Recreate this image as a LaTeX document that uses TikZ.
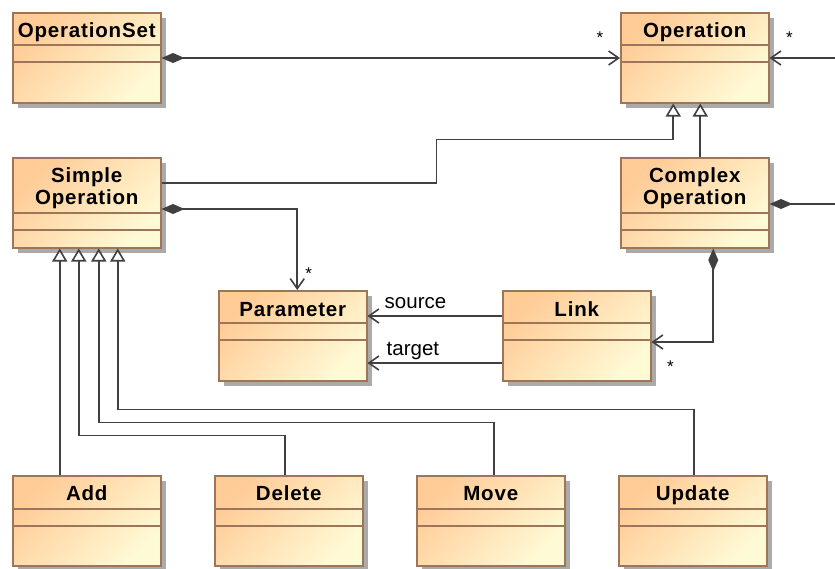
\documentclass[tikz,border=0pt]{standalone}
\usepackage{fontspec}
\setmainfont{Liberation Sans}
\newfontfamily\titlefont[LetterSpace=4]{Liberation Sans}
\usetikzlibrary{arrows.meta,calc,shadows}

\definecolor{boxtop}{RGB}{255,203,150}
\definecolor{boxbot}{RGB}{255,250,214}
\definecolor{boxedge}{RGB}{156,118,86}
\definecolor{boxshadow}{RGB}{170,170,170}
\definecolor{wire}{RGB}{64,64,64}

\tikzset{
  classbox/.style={rectangle, draw=boxedge, line width=1.5pt,
    minimum width=148pt, minimum height=90pt, inner sep=0pt,
    top color=boxtop, bottom color=boxbot, shading angle=45,
    drop shadow={shadow xshift=5pt, shadow yshift=-5pt, fill=boxshadow, opacity=1}},
  compline/.style={draw=boxedge, line width=1.3pt},
  classname/.style={font=\titlefont\bfseries\fontsize{20.5}{22}\selectfont, inner sep=0pt, anchor=base},
  rolelabel/.style={font=\fontsize{20.5}{22}\selectfont, inner sep=0pt},
  multlabel/.style={font=\fontsize{17}{18}\selectfont, inner sep=0pt},
  wireline/.style={draw=wire, line width=1.6pt},
  assoc/.style={wireline, -{Straight Barb[length=10pt,width=14pt,line width=1.6pt]}},
  compo/.style={wireline, {Diamond[length=23pt,width=10pt]}-{Straight Barb[length=10pt,width=14pt,line width=1.6pt]}},
  compoend/.style={wireline, {Diamond[length=23pt,width=10pt]}-},
  gen/.style={wireline, -{Triangle[open,length=13pt,width=15pt,fill=white,line width=1.6pt]}}
}

% class box: name, left x, top y, header height
\newcommand\umlbox[4]{%
  \node[classbox, anchor=north west] (#1) at (#2,#3) {};
  \draw[compline] ($(#1.north west)+(0,#4)$) -- ($(#1.north east)+(0,#4)$);
  \draw[compline] ($(#1.north west)+(0,#4+17)$) -- ($(#1.north east)+(0,#4+17)$);
}
% class title line: label name, box name, baseline offset from top, text
\newcommand\umltitle[4]{%
  \node[classname] (#1) at ($(#2.north)+(0,#3)$) {#4};
}

\begin{document}
\begin{tikzpicture}[x=1pt, y=-1pt]
  \useasboundingbox (0,0) rectangle (835,568);

  % classes
  \umlbox{opset}{12}{12}{33}
  \umltitle{opset-t}{opset}{25}{OperationSet}
  \umlbox{op}{620}{12}{33}
  \umltitle{op-t}{op}{25}{Operation}
  \umlbox{simple}{12}{157}{56}
  \umltitle{simple-t1}{simple}{25}{Simple}
  \umltitle{simple-t2}{simple}{47}{Operation}
  \umlbox{complex}{620}{157}{56}
  \umltitle{complex-t1}{complex}{25}{Complex}
  \umltitle{complex-t2}{complex}{47}{Operation}
  \umlbox{param}{218}{290}{33}
  \umltitle{param-t}{param}{26}{Parameter}
  \umlbox{link}{502}{290}{33}
  \umltitle{link-t}{link}{26}{Link}
  \umlbox{add}{12}{475}{34}
  \umltitle{add-t}{add}{25.5}{Add}
  \umlbox{del}{214}{475}{34}
  \umltitle{del-t}{del}{25.5}{Delete}
  \umlbox{move}{416}{475}{34}
  \umltitle{move-t}{move}{25.5}{Move}
  \umlbox{upd}{618}{475}{34}
  \umltitle{upd-t}{upd}{25.5}{Update}

  % free ends leaving the right edge
  \coordinate (offA) at (835,58);
  \coordinate (offB) at (835,204);

  % associations and compositions
  \draw[compo] ($(opset.north east)+(0,46)$) -- ($(op.north west)+(0,46)$);
  \draw[assoc] (offA) -- ($(op.north east)+(0,46)$);
  \draw[compoend] ($(complex.north east)+(0,47)$) -- (offB);
  \draw[compo] ($(simple.north east)+(0,52)$) -| ($(param.north)+(4.5,0)$);
  \draw[compo] ($(complex.south)+(18.5,0)$) |- ($(link.north east)+(0,52)$);
  \draw[assoc] ($(link.north west)+(0,26)$) -- ($(param.north east)+(0,26)$);
  \draw[assoc] ($(link.north west)+(0,73)$) -- ($(param.north east)+(0,73)$);

  % generalizations
  \draw[gen] ($(simple.north east)+(0,26)$) -- ++(275,0) |- ($(op.south)+(-21.5,36)$) -- ($(op.south)+(-21.5,0)$);
  \draw[gen] ($(complex.north)+(5.5,0)$) -- ($(op.south)+(5.5,0)$);
  \draw[gen] ($(add.north)+(-27,0)$) -- ($(simple.south)+(-27,0)$);
  \draw[gen] ($(del.north)+(-4,0)$) |- ($(simple.south)+(-8,187)$) -- ($(simple.south)+(-8,0)$);
  \draw[gen] ($(move.north)+(3,0)$) |- ($(simple.south)+(12,174)$) -- ($(simple.south)+(12,0)$);
  \draw[gen] ($(upd.north)+(1,0)$) |- ($(simple.south)+(31,161)$) -- ($(simple.south)+(31,0)$);

  % role names and multiplicities
  \node[rolelabel, anchor=west] (src) at ($(param.north east)+(17,13)$) {source};
  \node[rolelabel, anchor=west] (tgt) at ($(param.north east)+(19,61)$) {target};
  \node[multlabel] (m1) at ($(op.north west)+(-20,26)$) {*};
  \node[multlabel] (m2) at ($(op.north east)+(20,26)$) {*};
  \node[multlabel] (m3) at ($(param.north)+(16,-16)$) {*};
  \node[multlabel] (m4) at ($(link.north east)+(19,77)$) {*};
\end{tikzpicture}
\end{document}
